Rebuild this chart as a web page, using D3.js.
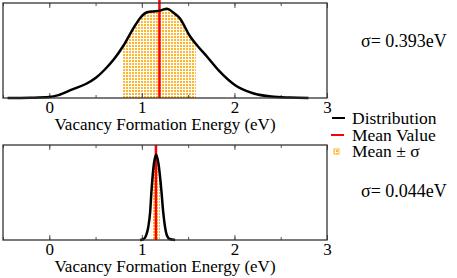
<!DOCTYPE html>
<html>
<head>
<meta charset="utf-8">
<script src="https://cdn.jsdelivr.net/npm/d3@7"></script>
<style>
  body { margin: 0; background: #fff; }
</style>
</head>
<body>
<div id="chart"></div>
<script>
// distribution (energy in eV, normalised height)
var topEnergy = [-0.45, -0.2, 0, 0.1, 0.25, 0.4, 0.5, 0.6, 0.7, 0.8, 0.9, 0.98, 1.05, 1.1, 1.2, 1.27, 1.34, 1.41, 1.52, 1.6, 1.7, 1.84, 2.0, 2.2, 2.4, 2.6, 2.8];
var topDensity = [0, 0.003, 0.01, 0.03, 0.09, 0.15, 0.21, 0.3, 0.41, 0.55, 0.72, 0.84, 0.9, 0.91, 0.92, 0.94, 0.9, 0.84, 0.65, 0.55, 0.44, 0.28, 0.14, 0.05, 0.015, 0.005, 0];
var topMean = 1.19;
var topSigma = 0.393;

// bottom panel
var botEnergy = [0.98, 1.02, 1.05, 1.07, 1.09, 1.105, 1.13, 1.155, 1.18, 1.21, 1.23, 1.25, 1.27, 1.3, 1.36];
var botDensity = [0, 0.01, 0.06, 0.14, 0.3, 0.53, 0.8, 0.9, 0.8, 0.53, 0.3, 0.14, 0.05, 0.01, 0];
var botMean = 1.152;
var botSigma = 0.044;

var majorTicks = [0, 1, 2, 3];
var minorTicks = [-0.5, 0, 0.5, 1, 1.5, 2, 2.5, 3];
var xTitle = "Vacancy Formation Energy (eV)";
var sigmaLabels = ["σ= 0.393eV", "σ= 0.044eV"];
var legendLabels = ["Distribution", "Mean Value", "Mean ± σ"];

var serif = "'Liberation Serif', 'Times New Roman', Times, serif";
var width = 457, height = 278;
var svg = d3.select("#chart").append("svg")
	.attr("width", width)
	.attr("height", height);

// dotted orange fill used for mean +/- sigma
var defs = svg.append("defs");
var pat = defs.append("pattern")
	.attr("id", "dots")
	.attr("patternUnits", "userSpaceOnUse")
	.attr("width", 3)
	.attr("height", 3);
pat.append("rect").attr("width", 3).attr("height", 3).attr("fill", "#fff");
pat.append("rect").attr("width", 2).attr("height", 2).attr("fill", "#ffb52e");

var xScale = d3.scaleLinear().domain([-0.5, 3]).range([3, 327]);

var panels = [
	{ top: 3, bottom: 98, lineTop: 0, energy: topEnergy, density: topDensity, mean: topMean, sigma: topSigma, label: sigmaLabels[0], labelY: 47, id: "p0" },
	{ top: 145, bottom: 240, lineTop: 145, energy: botEnergy, density: botDensity, mean: botMean, sigma: botSigma, label: sigmaLabels[1], labelY: 197, id: "p1" }
];

panels.forEach(function(p) {
	var yScale = d3.scaleLinear().domain([0, 1]).range([p.bottom, p.top]);
	var pts = p.energy.map(function(e, i){ return [e, p.density[i]]; });

	defs.append("clipPath")
		.attr("id", "clip_" + p.id)
		.append("rect")
		.attr("x", xScale(p.mean - p.sigma))
		.attr("y", p.top)
		.attr("width", xScale(p.mean + p.sigma) - xScale(p.mean - p.sigma))
		.attr("height", p.bottom - p.top);

	var area = d3.area()
		.x(function(d){ return xScale(d[0]); })
		.y0(yScale(0))
		.y1(function(d){ return yScale(d[1]); })
		.curve(d3.curveMonotoneX);

	svg.append("path")
		.datum(pts)
		.attr("d", area)
		.attr("fill", "url(#dots)")
		.attr("clip-path", "url(#clip_" + p.id + ")");

	// ticks inside the frame, top and bottom
	var bottomMinor = d3.axisBottom(xScale).tickValues(minorTicks).tickSize(-3).tickFormat("");
	var bottomMajor = d3.axisBottom(xScale).tickValues(majorTicks).tickSize(-5).tickPadding(3).tickFormat(d3.format("d"));
	var topMinor = d3.axisTop(xScale).tickValues(minorTicks).tickSize(-3).tickFormat("");
	var topMajor = d3.axisTop(xScale).tickValues(majorTicks).tickSize(-5).tickFormat("");

	[bottomMinor, bottomMajor].forEach(function(ax) {
		var g = svg.append("g").attr("transform", "translate(0," + p.bottom + ")").call(ax);
		g.select(".domain").remove();
		g.selectAll("line").attr("stroke", "#555");
		g.attr("font-family", serif).attr("font-size", 17);
	});
	[topMinor, topMajor].forEach(function(ax) {
		var g = svg.append("g").attr("transform", "translate(0," + p.top + ")").call(ax);
		g.select(".domain").remove();
		g.selectAll("line").attr("stroke", "#555");
	});

	// mean line
	svg.append("line")
		.attr("x1", xScale(p.mean)).attr("x2", xScale(p.mean))
		.attr("y1", p.lineTop).attr("y2", p.bottom)
		.attr("stroke", "#ff0000")
		.attr("stroke-width", 2.5);

	// distribution curve
	svg.append("path")
		.datum(pts)
		.attr("d", d3.line()
			.x(function(d){ return xScale(d[0]); })
			.y(function(d){ return yScale(d[1]); })
			.curve(d3.curveMonotoneX))
		.attr("fill", "none")
		.attr("stroke", "#000")
		.attr("stroke-width", 2.5);

	// frame
	svg.append("rect")
		.attr("x", xScale.range()[0]).attr("y", p.top)
		.attr("width", xScale.range()[1] - xScale.range()[0])
		.attr("height", p.bottom - p.top)
		.attr("fill", "none")
		.attr("stroke", "#333")
		.attr("stroke-width", 1.3);

	svg.append("text")
		.attr("x", 165).attr("y", p.bottom + 32)
		.attr("text-anchor", "middle")
		.attr("font-family", serif)
		.attr("font-size", 17)
		.text(xTitle);

	svg.append("text")
		.attr("x", 361).attr("y", p.labelY)
		.attr("font-family", serif)
		.attr("font-size", 18)
		.text(p.label);
});

// legend
var legend = svg.append("g");
var legendY = [124, 141, 157];
legend.append("line").attr("x1", 332).attr("x2", 345).attr("y1", 118).attr("y2", 118)
	.attr("stroke", "#000").attr("stroke-width", 2);
legend.append("line").attr("x1", 331).attr("x2", 344).attr("y1", 135).attr("y2", 135)
	.attr("stroke", "#ff0000").attr("stroke-width", 2);
legend.append("rect").attr("x", 334).attr("y", 149).attr("width", 5).attr("height", 5)
	.attr("fill", "url(#dots)").attr("stroke", "#ffb52e").attr("stroke-width", 1);
legend.selectAll("text.leg")
	.data(legendLabels)
	.enter()
	.append("text")
	.attr("class", "leg")
	.attr("x", 352)
	.attr("y", function(d, i){ return legendY[i]; })
	.attr("font-family", serif)
	.attr("font-size", 17.5)
	.text(function(d){ return d; });
</script>
</body>
</html>
